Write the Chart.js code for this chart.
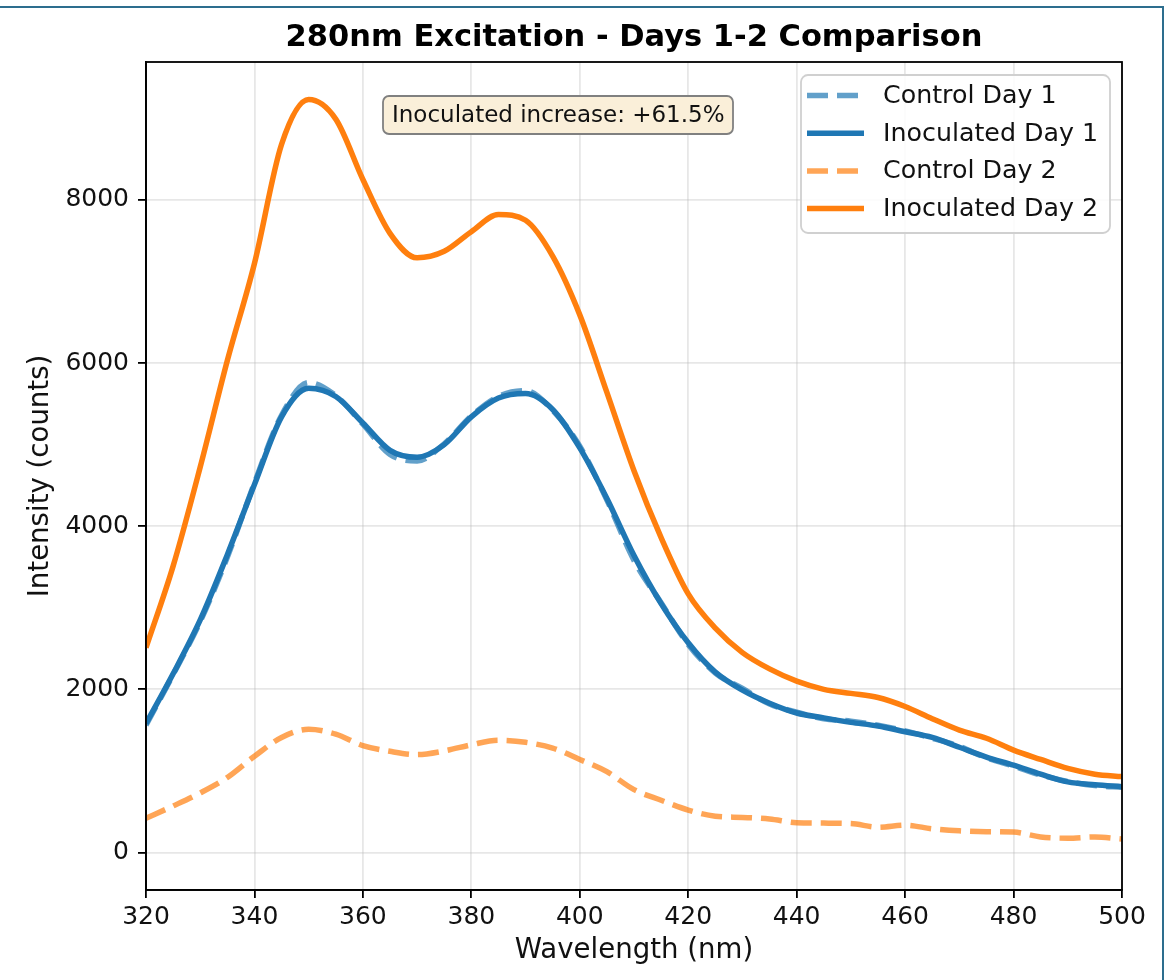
<!DOCTYPE html>
<html>
<head>
<meta charset="utf-8">
<title>280nm Excitation - Days 1-2 Comparison</title>
<script src="https://cdn.jsdelivr.net/npm/chart.js@4.4.1/dist/chart.umd.min.js"></script>
<style>
  html, body { margin: 0; padding: 0; background: #fff; }
  #wrap { width: 1176px; height: 980px; }
</style>
</head>
<body>
<div id="wrap"><canvas id="spectrumChart" width="1176" height="980"></canvas></div>
<script>
// wavelength (nm) and intensity (counts), every 5 nm
const wavelengths = [320, 325, 330, 335, 340, 345, 350, 355, 360, 365, 370, 375, 380, 385, 390, 395, 400, 405, 410,
  415, 420, 425, 430, 435, 440, 445, 450, 455, 460, 465, 470, 475, 480, 485, 490, 495, 500];

const controlDay1 = [1560, 2180, 2830, 3620, 4530, 5360, 5760, 5600, 5250, 4880, 4800, 5010, 5350, 5590, 5660, 5420, 4980, 4320, 3580,
  3060, 2550, 2200, 2010, 1820, 1720, 1640, 1610, 1560, 1490, 1400, 1300, 1160, 1060, 950, 870, 820, 800];
const inoculatedDay1 = [1580, 2190, 2850, 3650, 4510, 5340, 5690, 5590, 5265, 4930, 4845, 5000, 5340, 5570, 5625, 5430, 4960, 4340, 3640,
  3050, 2570, 2210, 1990, 1830, 1710, 1650, 1595, 1550, 1480, 1410, 1290, 1170, 1070, 960, 865, 830, 807];
const controlDay2 = [420, 570, 730, 920, 1180, 1410, 1510, 1450, 1310, 1240, 1200, 1245, 1320, 1375, 1350, 1280, 1140, 990, 770,
  640, 520, 445, 430, 410, 365, 360, 355, 310, 335, 290, 265, 255, 250, 190, 175, 190, 165];
const inoculatedDay2 = [2510, 3510, 4725, 6030, 7220, 8680, 9230, 8990, 8250, 7590, 7290, 7370, 7610, 7820, 7750, 7310, 6590, 5640, 4680,
  3860, 3170, 2750, 2450, 2250, 2100, 2000, 1950, 1900, 1790, 1640, 1500, 1400, 1255, 1140, 1030, 960, 930];

const xTicks = [320, 340, 360, 380, 400, 420, 440, 460, 480, 500];
const yTicks = [0, 2000, 4000, 6000, 8000];

const chartTitle = '280nm Excitation - Days 1-2 Comparison';
const noteText = 'Inoculated increase: +61.5%';

const FONT = '"DejaVu Sans", "Liberation Sans", sans-serif';
const BLUE = '#1f77b4';
const ORANGE = '#ff7f0e';
const LW = 5.5;
const DASH = [21, 9];

const toPoints = arr => wavelengths.map((w, i) => ({ x: w, y: arr[i] }));

Chart.defaults.font.family = FONT;

// title, spines, text box and legend drawn matplotlib-style
const decorations = {
  id: 'decorations',
  afterDatasetsDraw(chart) {
    const { ctx, chartArea: a } = chart;
    ctx.save();

    // full frame around the axes
    ctx.strokeStyle = '#000';
    ctx.lineWidth = 1.8;
    ctx.strokeRect(a.left, a.top, a.right - a.left, a.bottom - a.top);

    // annotation box
    const bx = a.left + 237, by = a.top + 34, bw = 350, bh = 38;
    ctx.beginPath();
    ctx.roundRect(bx, by, bw, bh, 6);
    ctx.fillStyle = '#faefd9';
    ctx.fill();
    ctx.strokeStyle = '#808080';
    ctx.lineWidth = 1.8;
    ctx.stroke();
    ctx.fillStyle = '#111';
    ctx.font = '23px ' + FONT;
    ctx.textAlign = 'left';
    ctx.textBaseline = 'middle';
    ctx.fillText(noteText, bx + 9, by + bh / 2 + 1);

    // legend box
    const lw = 309, lh = 158;
    const lx = a.right - 12 - lw, ly = a.top + 13;
    ctx.beginPath();
    ctx.roundRect(lx, ly, lw, lh, 7);
    ctx.fillStyle = 'rgba(255,255,255,0.85)';
    ctx.fill();
    ctx.strokeStyle = '#d0d0d0';
    ctx.lineWidth = 1.8;
    ctx.stroke();

    chart.data.datasets.forEach((ds, i) => {
      const cy = ly + 20.5 + i * 37.7;
      ctx.beginPath();
      ctx.setLineDash(ds.borderDash || []);
      ctx.strokeStyle = ds.borderColor;
      ctx.lineWidth = LW;
      ctx.moveTo(lx + 6, cy);
      ctx.lineTo(lx + 63, cy);
      ctx.stroke();
      ctx.setLineDash([]);
      ctx.fillStyle = '#111';
      ctx.font = '25.3px ' + FONT;
      ctx.textAlign = 'left';
      ctx.textBaseline = 'middle';
      ctx.fillText(ds.label, lx + 82, cy + 1);
    });
    ctx.restore();
  },
  afterDraw(chart) {
    const { ctx, chartArea: a } = chart;
    ctx.save();
    ctx.fillStyle = '#000';
    ctx.font = 'bold 30.5px ' + FONT;
    ctx.textAlign = 'center';
    ctx.textBaseline = 'middle';
    ctx.fillText(chartTitle, (a.left + a.right) / 2, 37.7);

    // outer panel edge (top and right)
    ctx.strokeStyle = '#2d6e8e';
    ctx.lineWidth = 2;
    ctx.beginPath();
    ctx.moveTo(0, 7);
    ctx.lineTo(1163, 7);
    ctx.lineTo(1163, 980);
    ctx.stroke();
    ctx.restore();
  }
};

const tickGrid = {
  color: 'rgba(176,176,176,0.3)',
  lineWidth: 1.8,
  tickColor: '#000',
  tickWidth: 1.8,
  tickLength: 8
};

const spectrumChart = new Chart(document.getElementById('spectrumChart'), {
  type: 'line',
  data: {
    datasets: [
      {
        label: 'Control Day 1',
        data: toPoints(controlDay1),
        borderColor: 'rgba(31,119,180,0.7)',
        borderDash: DASH,
        order: 3
      },
      {
        label: 'Inoculated Day 1',
        data: toPoints(inoculatedDay1),
        borderColor: BLUE,
        order: 2
      },
      {
        label: 'Control Day 2',
        data: toPoints(controlDay2),
        borderColor: 'rgba(255,127,14,0.7)',
        borderDash: DASH,
        order: 1
      },
      {
        label: 'Inoculated Day 2',
        data: toPoints(inoculatedDay2),
        borderColor: ORANGE,
        order: 0
      }
    ]
  },
  options: {
    responsive: false,
    animation: false,
    layout: { padding: { top: 62, right: 54, bottom: 0, left: 0 } },
    elements: {
      point: { radius: 0 },
      line: { borderWidth: LW, cubicInterpolationMode: 'monotone', fill: false, borderCapStyle: 'butt' }
    },
    plugins: {
      legend: { display: false },
      tooltip: { enabled: false },
      title: { display: false }
    },
    scales: {
      x: {
        type: 'linear',
        min: xTicks[0],
        max: xTicks[xTicks.length - 1],
        afterBuildTicks: s => { s.ticks = xTicks.map(v => ({ value: v })); },
        ticks: {
          padding: 4,
          maxRotation: 0,
          color: '#111',
          font: { size: 25 },
          callback: v => String(v)
        },
        grid: tickGrid,
        border: { display: true, color: '#000', width: 1.8 },
        title: {
          display: true,
          text: 'Wavelength (nm)',
          color: '#111',
          font: { size: 27.6 },
          padding: { top: 0, bottom: 13 }
        },
        afterFit: s => { s.height = 90; }
      },
      y: {
        type: 'linear',
        min: -460,
        max: 9690,
        afterBuildTicks: s => { s.ticks = yTicks.map(v => ({ value: v })); },
        ticks: {
          padding: 9,
          color: '#111',
          font: { size: 25 },
          callback: v => String(v)
        },
        grid: tickGrid,
        border: { display: true, color: '#000', width: 1.8 },
        title: {
          display: true,
          text: 'Intensity (counts)',
          color: '#111',
          font: { size: 27.6 },
          padding: { top: 24, bottom: 0 }
        },
        afterFit: s => { s.width = 146; }
      }
    }
  },
  plugins: [decorations]
});
</script>
</body>
</html>
